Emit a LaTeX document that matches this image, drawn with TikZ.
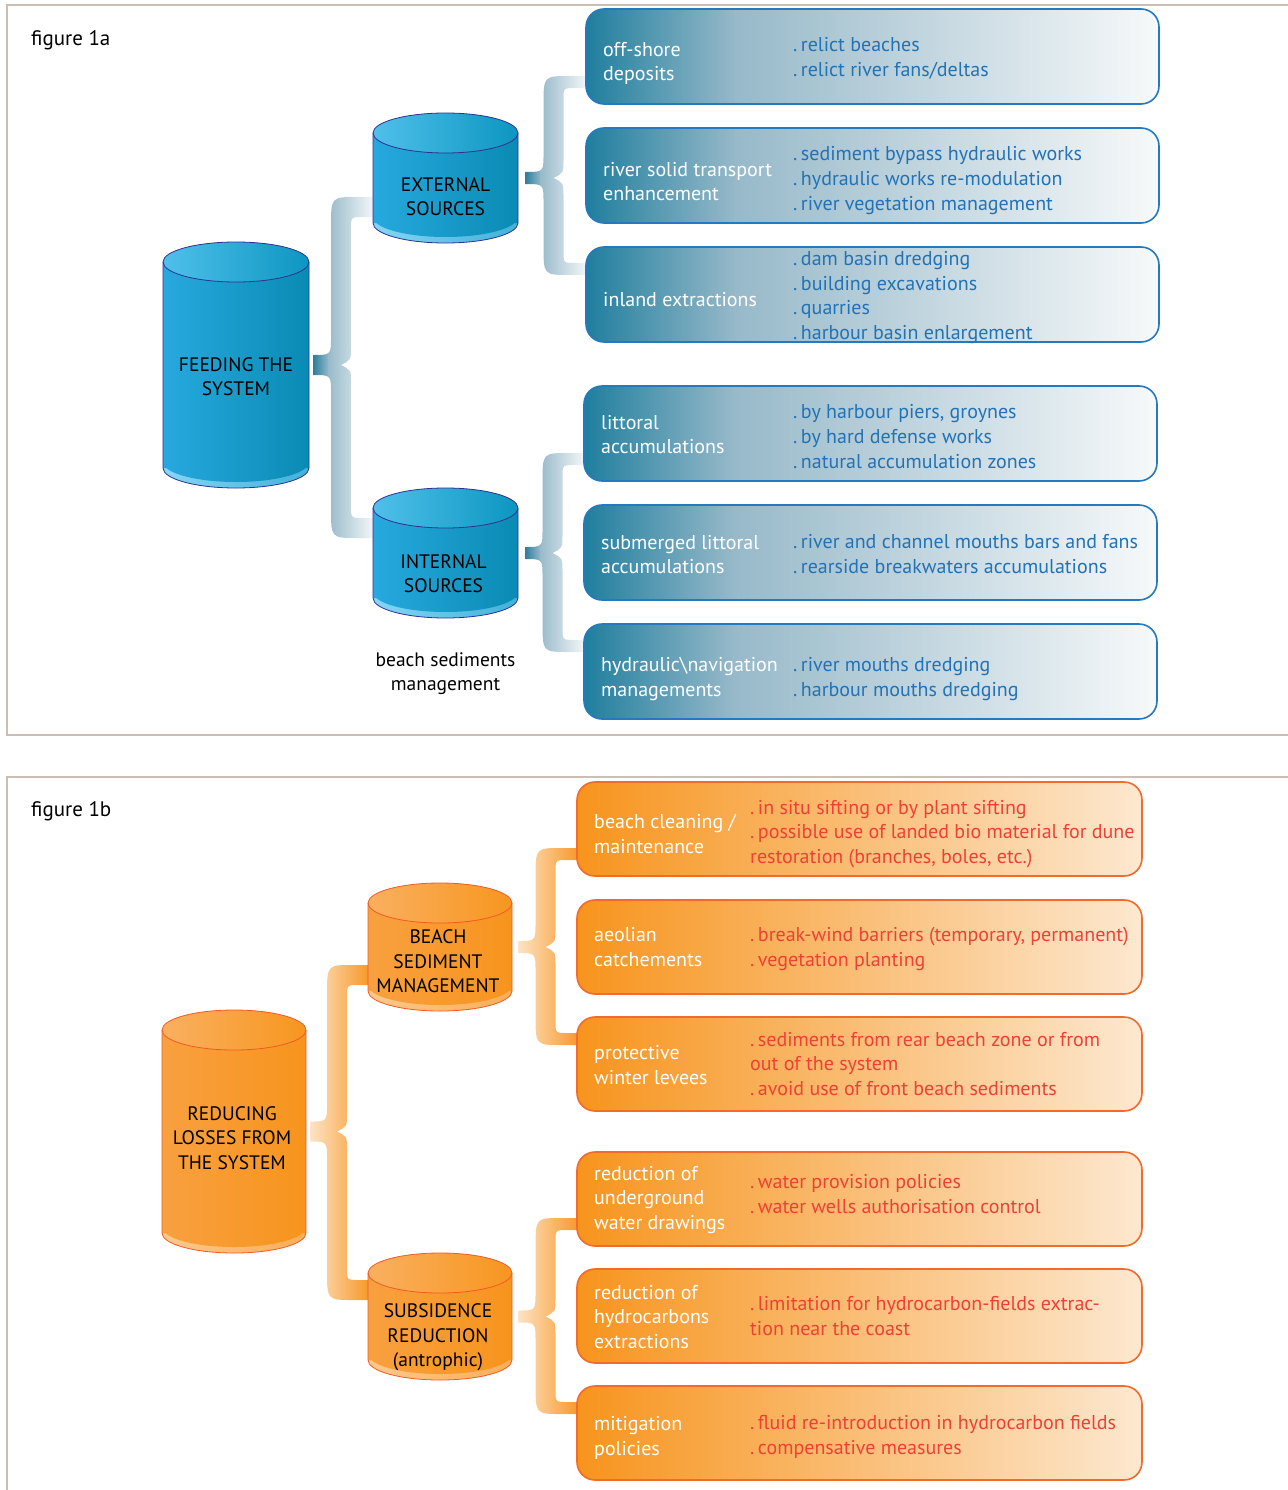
\documentclass[tikz,border=0pt]{standalone}
\usepackage{fontspec}
\setmainfont{PT Sans}
\usetikzlibrary{positioning,calc,backgrounds}

\definecolor{framegray}{HTML}{CBBFB3}
\definecolor{cylblueA}{HTML}{27A9DF}
\definecolor{cylblueB}{HTML}{0A8BB4}
\definecolor{cyltopA}{HTML}{4FC0EA}
\definecolor{cyltopB}{HTML}{0C96C1}
\definecolor{cylrimA}{HTML}{86D6F3}
\definecolor{cylrimB}{HTML}{40B1DA}
\definecolor{cylblueline}{HTML}{2E3192}
\definecolor{cylorA}{HTML}{F8A040}
\definecolor{cylorB}{HTML}{F7941D}
\definecolor{cylortopA}{HTML}{FAB060}
\definecolor{cylortopB}{HTML}{F7961F}
\definecolor{cylorrimA}{HTML}{FCC98C}
\definecolor{cylorrimB}{HTML}{F9AE58}
\definecolor{cylorline}{HTML}{F15A24}
\definecolor{bracedark}{HTML}{2B7E9C}
\definecolor{bracemid}{HTML}{98BACA}
\definecolor{bracelight}{HTML}{F2F6F8}
\definecolor{bracepale}{HTML}{FDE3C4}
\definecolor{braceorange}{HTML}{F79A2C}
\definecolor{boxblueline}{HTML}{2579BE}
\definecolor{itemblue}{HTML}{2272B6}
\definecolor{boxorline}{HTML}{F26A2C}
\definecolor{itemred}{HTML}{EE4136}
\definecolor{boxorA}{HTML}{F7941D}
\definecolor{boxorB}{HTML}{FDE8D0}
\definecolor{bxA}{HTML}{1F7E9E}
\definecolor{bxC}{HTML}{97B9C9}
\definecolor{bxE}{HTML}{F7F9FA}

\newcommand\diagfont{\fontsize{20}{24.6}\selectfont}
\newcommand\dotitem{.\hspace{3.5pt}}

\tikzset{
  every node/.style={font=\diagfont},
  panel/.style={draw=framegray, line width=1.5pt},
  figlabel/.style={anchor=west, inner sep=0pt, font=\fontsize{21}{25}\selectfont},
  feedcyl/.style={rectangle, inner sep=0pt, outer sep=0pt},
  cyltxt/.style={align=center, inner sep=0pt, text=black, font=\fontsize{19.5}{24.6}\selectfont},
  feed body/.style={left color=cylblueA, right color=cylblueB},
  feed top/.style={left color=cyltopA, right color=cyltopB},
  feed rim/.style={left color=cylrimA, right color=cylrimB},
  feed edge/.style={draw=cylblueline, line width=0.8pt},
  loss body/.style={left color=cylorA, right color=cylorB},
  loss top/.style={left color=cylortopA, right color=cylortopB},
  loss rim/.style={left color=cylorrimA, right color=cylorrimB},
  loss edge/.style={draw=cylorline, line width=0.8pt},
  loss brace/.style={left color=bracepale, right color=braceorange},
  feedbox/.style={rectangle, minimum width=573pt, minimum height=95pt, inner sep=0pt, outer sep=0pt},
  feedframe/.style={draw=boxblueline, line width=1.6pt, rounded corners=18pt},
  lossbox/.style={rectangle, rounded corners=18pt, minimum width=565pt, minimum height=94pt,
    inner sep=0pt, outer sep=0pt, draw=boxorline, line width=1.6pt, left color=boxorA, right color=boxorB},
  boxhead/.style={align=left, inner sep=0pt, text=white},
  feeditem/.style={align=left, inner sep=0pt, text=itemblue},
  lossitem/.style={align=left, inner sep=0pt, text=itemred}
}

\newcommand\sourcecyl[3]{% node, half width, colour set
  \path[#3 rim] (#1.south) ellipse[x radius=#2, y radius=20];
  \path[#3 body] (#1.north west) rectangle (#1.south east)
    ([yshift=6pt]#1.south) ellipse[x radius=#2, y radius=20];
  \path[#3 top] (#1.north) ellipse[x radius=#2, y radius=20];
  \draw[#3 edge] (#1.north west) -- (#1.south west)
    arc[start angle=180, end angle=360, x radius=#2, y radius=20] -- (#1.north east);
  \draw[#3 edge] (#1.north) ellipse[x radius=#2, y radius=20];}

% outline of a brace: tip, top end, bottom end, half thickness
\newcommand\braceoutline[4]{let \p1=#1, \p2=#2, \p3=#3, \n1={0.5*(\x1+\x2)-2pt}, \n2={#4} in
    (\x1,\y1+\n2) .. controls (\n1-10pt,\y1+\n2) .. (\n1-10pt,\y1+\n2+18pt)
    -- (\n1-10pt,\y2+\n2-30pt) .. controls (\n1-10pt,\y2+\n2) .. (\n1+16pt,\y2+\n2)
    -- (\x2,\y2+\n2) -- (\x2,\y2-\n2)
    -- (\n1+22pt,\y2-\n2) .. controls (\n1+10pt,\y2-\n2) .. (\n1+10pt,\y2-\n2-12pt)
    -- (\n1+10pt,\y1+18pt) .. controls (\n1+10pt,\y1+5pt) .. (\n1,\y1)
    .. controls (\n1+10pt,\y1-5pt) .. (\n1+10pt,\y1-18pt)
    -- (\n1+10pt,\y3+\n2+12pt) .. controls (\n1+10pt,\y3+\n2) .. (\n1+22pt,\y3+\n2)
    -- (\x3,\y3+\n2) -- (\x3,\y3-\n2)
    -- (\n1+16pt,\y3-\n2) .. controls (\n1-10pt,\y3-\n2) .. (\n1-10pt,\y3-\n2+30pt)
    -- (\n1-10pt,\y1-\n2-18pt) .. controls (\n1-10pt,\y1-\n2) .. (\x1,\y1-\n2) -- cycle}

\newcommand\feedbrace[4]{% tip, top end, bottom end, half thickness
  \begin{scope}
    \clip \braceoutline{#1}{#2}{#3}{#4};
    \shade[left color=bracedark, right color=bracemid] let \p1=#1, \p2=#2, \p3=#3 in
      (\x1,\y3-15pt) rectangle ({\x1+0.25*(\x2-\x1)+1pt},\y2+15pt);
    \shade[left color=bracemid, right color=bracelight] let \p1=#1, \p2=#2, \p3=#3 in
      ({\x1+0.25*(\x2-\x1)},\y3-15pt) rectangle (\x2,\y2+15pt);
  \end{scope}}

\newcommand\lossbrace[4]{\path[loss brace] \braceoutline{#1}{#2}{#3}{#4};}

\newcommand\feedfill[1]{%
  \begin{scope}
    \clip[rounded corners=18pt] (#1.south west) rectangle (#1.north east);
    \shade[left color=bxA, right color=bxC] (#1.south west)
      rectangle ($(#1.north west)!0.26!(#1.north east)+(1,0)$);
    \shade[left color=bxC, right color=bxE] ($(#1.south west)!0.26!(#1.south east)$)
      rectangle (#1.north east);
  \end{scope}
  \draw[feedframe] (#1.south west) rectangle (#1.north east);}
\newcommand\lossfill[1]{}

\newcommand\sortbox[9]{% name, style, x, y, head, items, feed/loss, head shift, item shift
  \node[#2, anchor=north west] (#1) at (#3,#4) {};
  \csname #7fill\endcsname{#1}
  \node[boxhead, anchor=west] (#1-head) at ($(#1.west)+(17,#8)$) {#5};
  \node[#7item, anchor=west] (#1-items) at ($(#1.west -| #7col)+(0,#9)$) {#6};}

\begin{document}
\begin{tikzpicture}[x=1pt,y=1pt]
  \useasboundingbox (0,0) rectangle (1287,-1490);

  \draw[panel] (1295,-5) -- (7,-5) -- (7,-735) -- (1295,-735);
  \draw[panel] (1295,-777) -- (7,-777) -- (7,-1495);
  \node[figlabel] (fig1a) at (31,-40) {figure 1a};
  \node[figlabel] (fig1b) at (31,-811) {figure 1b};
  \coordinate (feedcol) at (793,0);
  \coordinate (losscol) at (750,0);

  % figure 1a
  \node[feedcyl, minimum width=146pt, minimum height=206pt] (feed) at (236,-365) {};
  \node[feedcyl, minimum width=145pt, minimum height=90pt] (extsrc) at (445.5,-178) {};
  \node[feedcyl, minimum width=145pt, minimum height=90pt] (intsrc) at (445.5,-553) {};
  \node[cyltxt] (feed-txt) at ([yshift=-11.5pt]feed.center) {FEEDING THE\\SYSTEM};
  \node[cyltxt] (extsrc-txt) at ([yshift=-18.5pt]extsrc.center) {EXTERNAL\\SOURCES};
  \node[cyltxt] (intsrc-txt) at ([xshift=-2pt,yshift=-20.5pt]intsrc.center) {INTERNAL\\SOURCES};
  \node[cyltxt, below=54pt of intsrc.south] (note) {beach sediments\\management};

  \sortbox{b1}{feedbox}{586}{-9}{off-shore\\deposits}
    {\dotitem relict beaches\\\dotitem relict river fans/deltas}{feed}{-7}{-2}
  \sortbox{b2}{feedbox}{586}{-128}{river solid transport\\enhancement}
    {\dotitem sediment bypass hydraulic works\\\dotitem hydraulic works re-modulation\\\dotitem river vegetation management}{feed}{-6}{-5}
  \sortbox{b3}{feedbox}{586}{-247}{inland extractions}
    {\dotitem dam basin dredging\\\dotitem building excavations\\\dotitem quarries\\\dotitem harbour basin enlargement}{feed}{-5}{-3}
  \sortbox{b4}{feedbox}{584}{-386}{littoral\\accumulations}
    {\dotitem by harbour piers, groynes\\\dotitem by hard defense works\\\dotitem natural accumulation zones}{feed}{-1}{-3}
  \sortbox{b5}{feedbox}{584}{-505}{submerged littoral\\accumulations}
    {\dotitem river and channel mouths bars and fans\\\dotitem rearside breakwaters accumulations}{feed}{-2}{-1.5}
  \sortbox{b6}{feedbox}{584}{-624}{hydraulic\textbackslash navigation\\managements}
    {\dotitem river mouths dredging\\\dotitem harbour mouths dredging}{feed}{-7.5}{-7.5}

  % figure 1b
  \node[feedcyl, minimum width=144pt, minimum height=203pt] (reduce) at (234,-1131.5) {};
  \node[feedcyl, minimum width=144pt, minimum height=88pt] (beach) at (440,-947) {};
  \node[feedcyl, minimum width=144pt, minimum height=87pt] (subs) at (440,-1316.5) {};
  \node[cyltxt] (reduce-txt) at ([xshift=-2pt,yshift=-6.5pt]reduce.center) {REDUCING\\LOSSES FROM\\THE SYSTEM};
  \node[cyltxt] (beach-txt) at ([xshift=-2pt,yshift=-14.5pt]beach.center) {BEACH\\SEDIMENT\\MANAGEMENT};
  \node[cyltxt] (subs-txt) at ([xshift=-2pt,yshift=-21pt]subs.center) {SUBSIDENCE\\REDUCTION\\(antrophic)};

  \sortbox{o1}{lossbox}{577}{-782}{beach cleaning /\\maintenance}
    {\dotitem in situ sifting or by plant sifting\\\dotitem possible use of landed bio material for dune\\restoration (branches, boles, etc.)}{loss}{-5}{-5}
  \sortbox{o2}{lossbox}{577}{-900}{aeolian\\catchements}
    {\dotitem break-wind barriers (temporary, permanent)\\\dotitem vegetation planting}{loss}{0}{-2}
  \sortbox{o3}{lossbox}{577}{-1017}{protective\\winter levees}
    {\dotitem sediments from rear beach zone or from\\out of the system\\\dotitem avoid use of front beach sediments}{loss}{-1}{0}
  \sortbox{o4}{lossbox}{577}{-1152}{reduction of\\underground\\water drawings}
    {\dotitem water provision policies\\\dotitem water wells authorisation control}{loss}{-1}{5}
  \sortbox{o5}{lossbox}{577}{-1269}{reduction of\\hydrocarbons\\extractions}
    {\dotitem limitation for hydrocarbon-fields extrac-\\tion near the coast}{loss}{-1}{0}
  \sortbox{o6}{lossbox}{577}{-1386}{mitigation\\policies}
    {\dotitem fluid re-introduction in hydrocarbon fields\\\dotitem compensative measures}{loss}{-5}{-4}

  \begin{scope}[on background layer]
    \feedbrace{([xshift=4pt]feed.east)}{([yshift=16pt]extsrc.south west)}{([yshift=-20pt]intsrc.north west)}{10pt}
    \feedbrace{([xshift=7pt]extsrc.east)}{([yshift=22pt]b1.south west)}{([yshift=-22pt]b3.north west)}{6pt}
    \feedbrace{([xshift=7pt]intsrc.east)}{([yshift=22pt]b4.south west)}{([yshift=-22pt]b6.north west)}{6pt}
    \lossbrace{([xshift=4pt]reduce.east)}{([yshift=16pt]beach.south west)}{([yshift=-17pt]subs.north west)}{10pt}
    \lossbrace{([xshift=6pt]beach.east)}{([yshift=22pt]o1.south west)}{([yshift=-22pt]o3.north west)}{6pt}
    \lossbrace{([xshift=6pt]subs.east)}{([yshift=22pt]o4.south west)}{([yshift=-22pt]o6.north west)}{6pt}
    \sourcecyl{feed}{73}{feed}
    \sourcecyl{extsrc}{72.5}{feed}
    \sourcecyl{intsrc}{72.5}{feed}
    \sourcecyl{reduce}{72}{loss}
    \sourcecyl{beach}{72}{loss}
    \sourcecyl{subs}{72}{loss}
  \end{scope}
\end{tikzpicture}
\end{document}
